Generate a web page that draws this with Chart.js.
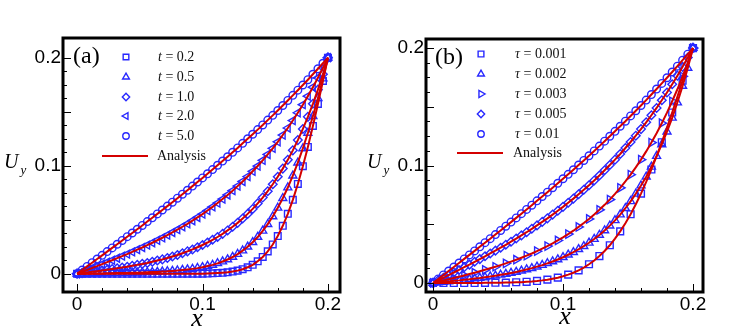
<!DOCTYPE html>
<html>
<head>
<meta charset="utf-8">
<script src="https://cdn.jsdelivr.net/npm/chart.js@4.4.1/dist/chart.umd.min.js"></script>
<style>
  html, body { margin: 0; padding: 0; background: #fff; }
  #wrap { position: relative; width: 748px; height: 335px; overflow: hidden; }
  .panel { position: absolute; top: 0; height: 335px; }
</style>
</head>
<body>
<div id="wrap">
  <div class="panel" style="left:0; width:374px"><canvas id="chartA"></canvas></div>
  <div class="panel" style="left:350px; width:398px"><canvas id="chartB"></canvas></div>
</div>
<script>
// shared x positions of the samples
const xs = [0, 0.004, 0.008, 0.012, 0.016, 0.02, 0.024, 0.028, 0.032, 0.036, 0.04, 0.044, 0.048, 0.052, 0.056, 0.06, 0.064, 0.068, 0.072, 0.076, 0.08, 0.084, 0.088, 0.092, 0.096, 0.1, 0.104, 0.108, 0.112, 0.116, 0.12, 0.124, 0.128, 0.132, 0.136, 0.14, 0.144, 0.148, 0.152, 0.156, 0.16, 0.164, 0.168, 0.172, 0.176, 0.18, 0.184, 0.188, 0.192, 0.196, 0.2];

// panel (a): U_y at several times t
const uyT02 = [0, 0, 0, 0, 0, 0, 0, 0, 0, 0, 0, 0, 0, 0, 0, 0, 0, 0, 0, 0, 0, 0, 0, 0, 0.0001, 0.0001, 0.0002, 0.0004, 0.0006, 0.0009, 0.0013, 0.0020, 0.0029, 0.0042, 0.0060, 0.0083, 0.0115, 0.0155, 0.0207, 0.0271, 0.0349, 0.0444, 0.0555, 0.0684, 0.0831, 0.0995, 0.1174, 0.1368, 0.1572, 0.1784, 0.2];
const uyT05 = [0, 0.0001, 0.0001, 0.0002, 0.0003, 0.0003, 0.0004, 0.0005, 0.0006, 0.0007, 0.0008, 0.0009, 0.0010, 0.0011, 0.0013, 0.0015, 0.0017, 0.0020, 0.0022, 0.0026, 0.0029, 0.0034, 0.0039, 0.0045, 0.0052, 0.0061, 0.0071, 0.0082, 0.0096, 0.0113, 0.0132, 0.0155, 0.0182, 0.0214, 0.0250, 0.0292, 0.0340, 0.0397, 0.0459, 0.0530, 0.0610, 0.0699, 0.0798, 0.0908, 0.1028, 0.1160, 0.1303, 0.1458, 0.1625, 0.1806, 0.2];
const uyT10 = [0, 0.0006, 0.0012, 0.0018, 0.0024, 0.0030, 0.0037, 0.0043, 0.0050, 0.0057, 0.0065, 0.0073, 0.0082, 0.0091, 0.0100, 0.0111, 0.0122, 0.0133, 0.0146, 0.0160, 0.0174, 0.0190, 0.0207, 0.0225, 0.0245, 0.0266, 0.0289, 0.0314, 0.0340, 0.0369, 0.0401, 0.0435, 0.0471, 0.0511, 0.0554, 0.0600, 0.0651, 0.0705, 0.0764, 0.0828, 0.0898, 0.0973, 0.1054, 0.1142, 0.1237, 0.1340, 0.1452, 0.1573, 0.1704, 0.1846, 0.2];
const uyT20 = [0, 0.0018, 0.0035, 0.0053, 0.0071, 0.0089, 0.0107, 0.0125, 0.0144, 0.0163, 0.0182, 0.0202, 0.0223, 0.0243, 0.0265, 0.0287, 0.0310, 0.0333, 0.0357, 0.0382, 0.0408, 0.0435, 0.0462, 0.0491, 0.0521, 0.0552, 0.0585, 0.0619, 0.0654, 0.0691, 0.0729, 0.0769, 0.0811, 0.0854, 0.0900, 0.0948, 0.0997, 0.1050, 0.1104, 0.1161, 0.1221, 0.1284, 0.1349, 0.1418, 0.1490, 0.1565, 0.1644, 0.1727, 0.1814, 0.1905, 0.2];
const uyT50 = [0, 0.0034, 0.0068, 0.0102, 0.0136, 0.0170, 0.0205, 0.0239, 0.0273, 0.0308, 0.0343, 0.0377, 0.0412, 0.0447, 0.0483, 0.0518, 0.0554, 0.0590, 0.0626, 0.0662, 0.0699, 0.0736, 0.0773, 0.0811, 0.0849, 0.0887, 0.0925, 0.0964, 0.1004, 0.1043, 0.1083, 0.1124, 0.1165, 0.1207, 0.1249, 0.1291, 0.1334, 0.1377, 0.1422, 0.1466, 0.1511, 0.1557, 0.1604, 0.1651, 0.1699, 0.1747, 0.1796, 0.1846, 0.1897, 0.1948, 0.2];

// panel (b): U_y for several relaxation times tau
const uyTau001 = [0, 0, 0, 0, 0, 0, 0, 0, 0, 0, 0.0001, 0.0001, 0.0002, 0.0002, 0.0003, 0.0004, 0.0006, 0.0007, 0.0010, 0.0013, 0.0017, 0.0022, 0.0028, 0.0036, 0.0045, 0.0057, 0.0071, 0.0087, 0.0107, 0.0131, 0.0159, 0.0191, 0.0229, 0.0272, 0.0321, 0.0378, 0.0439, 0.0509, 0.0585, 0.0670, 0.0761, 0.0860, 0.0966, 0.1079, 0.1198, 0.1322, 0.1451, 0.1585, 0.1722, 0.1860, 0.2];
const uyTau002 = [0, 0.0004, 0.0009, 0.0013, 0.0018, 0.0022, 0.0027, 0.0032, 0.0038, 0.0043, 0.0049, 0.0055, 0.0062, 0.0069, 0.0077, 0.0085, 0.0094, 0.0104, 0.0115, 0.0126, 0.0139, 0.0152, 0.0167, 0.0183, 0.0200, 0.0219, 0.0240, 0.0262, 0.0287, 0.0313, 0.0342, 0.0374, 0.0409, 0.0447, 0.0488, 0.0533, 0.0582, 0.0636, 0.0695, 0.0759, 0.0829, 0.0905, 0.0989, 0.1080, 0.1179, 0.1288, 0.1406, 0.1536, 0.1677, 0.1831, 0.2];
const uyTau003 = [0, 0.0011, 0.0021, 0.0032, 0.0042, 0.0053, 0.0064, 0.0076, 0.0087, 0.0099, 0.0112, 0.0125, 0.0138, 0.0152, 0.0167, 0.0182, 0.0198, 0.0215, 0.0233, 0.0251, 0.0271, 0.0292, 0.0314, 0.0337, 0.0362, 0.0388, 0.0416, 0.0445, 0.0477, 0.0510, 0.0545, 0.0583, 0.0623, 0.0665, 0.0710, 0.0758, 0.0810, 0.0864, 0.0922, 0.0984, 0.1050, 0.1120, 0.1195, 0.1275, 0.1360, 0.1450, 0.1547, 0.1649, 0.1759, 0.1876, 0.2];
const uyTau005 = [0, 0.0022, 0.0044, 0.0066, 0.0089, 0.0111, 0.0134, 0.0156, 0.0180, 0.0203, 0.0227, 0.0251, 0.0275, 0.0300, 0.0325, 0.0351, 0.0378, 0.0405, 0.0432, 0.0461, 0.0490, 0.0520, 0.0550, 0.0582, 0.0615, 0.0648, 0.0683, 0.0718, 0.0755, 0.0793, 0.0832, 0.0873, 0.0915, 0.0959, 0.1004, 0.1050, 0.1098, 0.1149, 0.1200, 0.1254, 0.1310, 0.1368, 0.1428, 0.1490, 0.1555, 0.1622, 0.1692, 0.1765, 0.1840, 0.1919, 0.2];
const uyTau01 = [0, 0.0034, 0.0068, 0.0102, 0.0136, 0.0170, 0.0205, 0.0239, 0.0273, 0.0308, 0.0343, 0.0377, 0.0412, 0.0447, 0.0483, 0.0518, 0.0554, 0.0590, 0.0626, 0.0662, 0.0699, 0.0736, 0.0773, 0.0811, 0.0849, 0.0887, 0.0925, 0.0964, 0.1004, 0.1043, 0.1083, 0.1124, 0.1165, 0.1207, 0.1249, 0.1291, 0.1334, 0.1377, 0.1422, 0.1466, 0.1511, 0.1557, 0.1604, 0.1651, 0.1699, 0.1747, 0.1796, 0.1846, 0.1897, 0.1948, 0.2];

// legend labels
const tLabels = ['0.2', '0.5', '1.0', '2.0', '5.0'];
const tauLabels = ['0.001', '0.002', '0.003', '0.005', '0.01'];

// axis ticks
const labelTicks = [0, 0.1, 0.2];
const xMinorTicks = [0.02, 0.04, 0.06, 0.08, 0.12, 0.14, 0.16, 0.18];
const yMajorTicks = [0, 0.05, 0.1, 0.15, 0.2];
const yMinorTicks = [0.0125, 0.025, 0.0375, 0.0625, 0.075, 0.0875, 0.1125, 0.125, 0.1375, 0.1625, 0.175, 0.1875];

const BLUE = 'rgb(40,40,255)';
const RED = '#d40000';

// marker styles, in legend order
const markersA = [
  { style: 'rect', rot: 0, r: 4.7 },
  { style: 'triangle', rot: 0, r: 4.6 },
  { style: 'rectRot', rot: 0, r: 4.3 },
  { style: 'triangle', rot: -90, r: 4.6 },
  { style: 'circle', rot: 0, r: 3.8 }
];
const markersB = [
  { style: 'rect', rot: 0, r: 4.8, skip: true },
  { style: 'triangle', rot: 0, r: 4.6 },
  { style: 'triangle', rot: 90, r: 4.8, skip: true },
  { style: 'rectRot', rot: 0, r: 4.3 },
  { style: 'circle', rot: 0, r: 3.8 }
];

const pts = ys => xs.map((x, i) => ({ x, y: ys[i] }));

function drawMarker(ctx, m, x, y, r) {
  ctx.save();
  ctx.strokeStyle = BLUE;
  ctx.fillStyle = 'rgba(0,0,0,0)';
  ctx.lineWidth = 1.4;
  Chart.helpers.drawPoint(ctx, { pointStyle: m.style, rotation: m.rot, radius: r, borderWidth: 1.4 }, x, y);
  ctx.restore();
}

function drawRich(ctx, parts, x, y, size) {
  parts.forEach(p => {
    ctx.font = (p.it ? 'italic ' : '') + size + 'px "Liberation Serif"';
    ctx.fillText(p.t, x, y);
    x += ctx.measureText(p.t).width;
  });
}

// frame, inward ticks, legend and titles
const deco = {
  id: 'deco',
  afterDraw(chart, args, o) {
    const { ctx, chartArea: ca, scales: { x, y } } = chart;
    ctx.save();
    ctx.strokeStyle = '#000';
    ctx.lineWidth = 1;
    const tx = (v, len) => {
      const p = Math.round(x.getPixelForValue(v)) + 0.5;
      ctx.beginPath(); ctx.moveTo(p, ca.bottom); ctx.lineTo(p, ca.bottom - len); ctx.stroke();
    };
    const ty = (v, len) => {
      const p = Math.round(y.getPixelForValue(v)) + 0.5;
      ctx.beginPath(); ctx.moveTo(ca.left, p); ctx.lineTo(ca.left + len, p); ctx.stroke();
    };
    labelTicks.forEach(v => tx(v, 8));
    xMinorTicks.forEach(v => tx(v, 4));
    yMajorTicks.forEach(v => ty(v, 8));
    yMinorTicks.forEach(v => ty(v, 4));

    ctx.lineWidth = 3;
    ctx.strokeRect(ca.left, ca.top, ca.width, ca.height);

    // legend
    const lg = o.legend;
    ctx.fillStyle = '#111';
    ctx.textBaseline = 'middle';
    ctx.textAlign = 'left';
    lg.markers.forEach((m, i) => {
      drawMarker(ctx, m, lg.mx, lg.rows[i], m.r * 0.85);
      drawRich(ctx, [{ t: lg.sym, it: true }, { t: ' = ' + lg.labels[i] }], lg.tx, lg.rows[i], 14);
    });
    ctx.strokeStyle = RED;
    ctx.lineWidth = 2;
    ctx.beginPath(); ctx.moveTo(lg.lx0, lg.ly); ctx.lineTo(lg.lx1, lg.ly); ctx.stroke();
    drawRich(ctx, [{ t: 'Analysis' }], lg.ax, lg.ly, 14);

    // panel tag
    ctx.fillStyle = '#000';
    ctx.font = '24px "Liberation Serif"';
    ctx.fillText(o.tag.text, o.tag.x, o.tag.y);

    // axis titles
    ctx.textAlign = 'center';
    ctx.font = 'italic 26px "Liberation Serif"';
    ctx.fillText('x', o.xTitle.x, o.xTitle.y);
    ctx.textAlign = 'left';
    ctx.font = 'italic 20px "Liberation Serif"';
    ctx.fillText('U', o.yTitle.x, o.yTitle.y);
    const uw = ctx.measureText('U').width;
    ctx.font = 'italic 13px "Liberation Serif"';
    ctx.fillText('y', o.yTitle.x + uw + 2, o.yTitle.y + 8);
    ctx.restore();
  }
};

function makePanel(id, p) {
  const datasets = [];
  p.series.forEach(ys => {
    datasets.push({
      data: pts(ys), showLine: true, borderColor: RED, borderWidth: 2,
      pointRadius: 0, order: 0
    });
  });
  p.series.forEach((ys, i) => {
    const m = p.markers[i];
    datasets.push({
      data: pts(ys), showLine: false, order: 1,
      pointStyle: m.style, rotation: m.rot,
      pointRadius: m.skip ? (c => c.dataIndex % 2 === 0 ? m.r : 0) : m.r,
      pointBorderColor: BLUE, pointBackgroundColor: 'rgba(0,0,0,0)', pointBorderWidth: 1.4
    });
  });
  const tickFont = { family: 'Liberation Sans', size: 19 };
  return new Chart(document.getElementById(id), {
    type: 'scatter',
    data: { datasets },
    options: {
      responsive: true, maintainAspectRatio: false, animation: false, events: [],
      layout: { padding: { left: 0, top: p.area.top, right: p.W - p.area.right, bottom: 0 } },
      scales: {
        x: {
          type: 'linear', min: p.xMin, max: p.xMax,
          grid: { display: false, drawTicks: false }, border: { display: false },
          afterBuildTicks: s => { s.ticks = labelTicks.map(v => ({ value: v })); },
          afterFit: s => { s.height = 335 - p.area.bottom; },
          ticks: { font: tickFont, color: '#000', padding: 1, maxRotation: 0, autoSkip: false, callback: v => String(v) }
        },
        y: {
          type: 'linear', min: p.yMin, max: p.yMax,
          grid: { display: false, drawTicks: false }, border: { display: false },
          afterBuildTicks: s => { s.ticks = labelTicks.map(v => ({ value: v })); },
          afterFit: s => { s.width = p.area.left; },
          ticks: { font: tickFont, color: '#000', padding: 2, autoSkip: false, callback: v => String(v) }
        }
      },
      plugins: {
        legend: { display: false }, tooltip: { enabled: false },
        deco: { legend: p.legend, tag: p.tag, xTitle: p.xTitle, yTitle: p.yTitle }
      }
    },
    plugins: [deco]
  });
}

makePanel('chartA', {
  W: 374, area: { left: 63, top: 38, right: 340, bottom: 292 },
  xMin: -0.0112, xMax: 0.2096, yMin: -0.0169, yMax: 0.2182,
  series: [uyT02, uyT05, uyT10, uyT20, uyT50], markers: markersA,
  legend: { markers: markersA, labels: tLabels, sym: 't', mx: 126, tx: 158, rows: [57, 77, 97, 116, 136],
            ly: 156, lx0: 102, lx1: 148, ax: 157 },
  tag: { text: '(a)', x: 73, y: 57 },
  xTitle: { x: 197, y: 319 },
  yTitle: { x: 4, y: 163 }
});

makePanel('chartB', {
  W: 398, area: { left: 76, top: 39, right: 353, bottom: 292 },
  xMin: -0.0054, xMax: 0.2077, yMin: -0.0077, yMax: 0.2077,
  series: [uyTau001, uyTau002, uyTau003, uyTau005, uyTau01], markers: markersB,
  legend: { markers: markersB, labels: tauLabels, sym: 'τ', mx: 131, tx: 165, rows: [54, 74, 94, 114, 134],
            ly: 153, lx0: 107, lx1: 153, ax: 163 },
  tag: { text: '(b)', x: 85, y: 58 },
  xTitle: { x: 215, y: 317 },
  yTitle: { x: 17, y: 163 }
});
</script>
</body>
</html>
